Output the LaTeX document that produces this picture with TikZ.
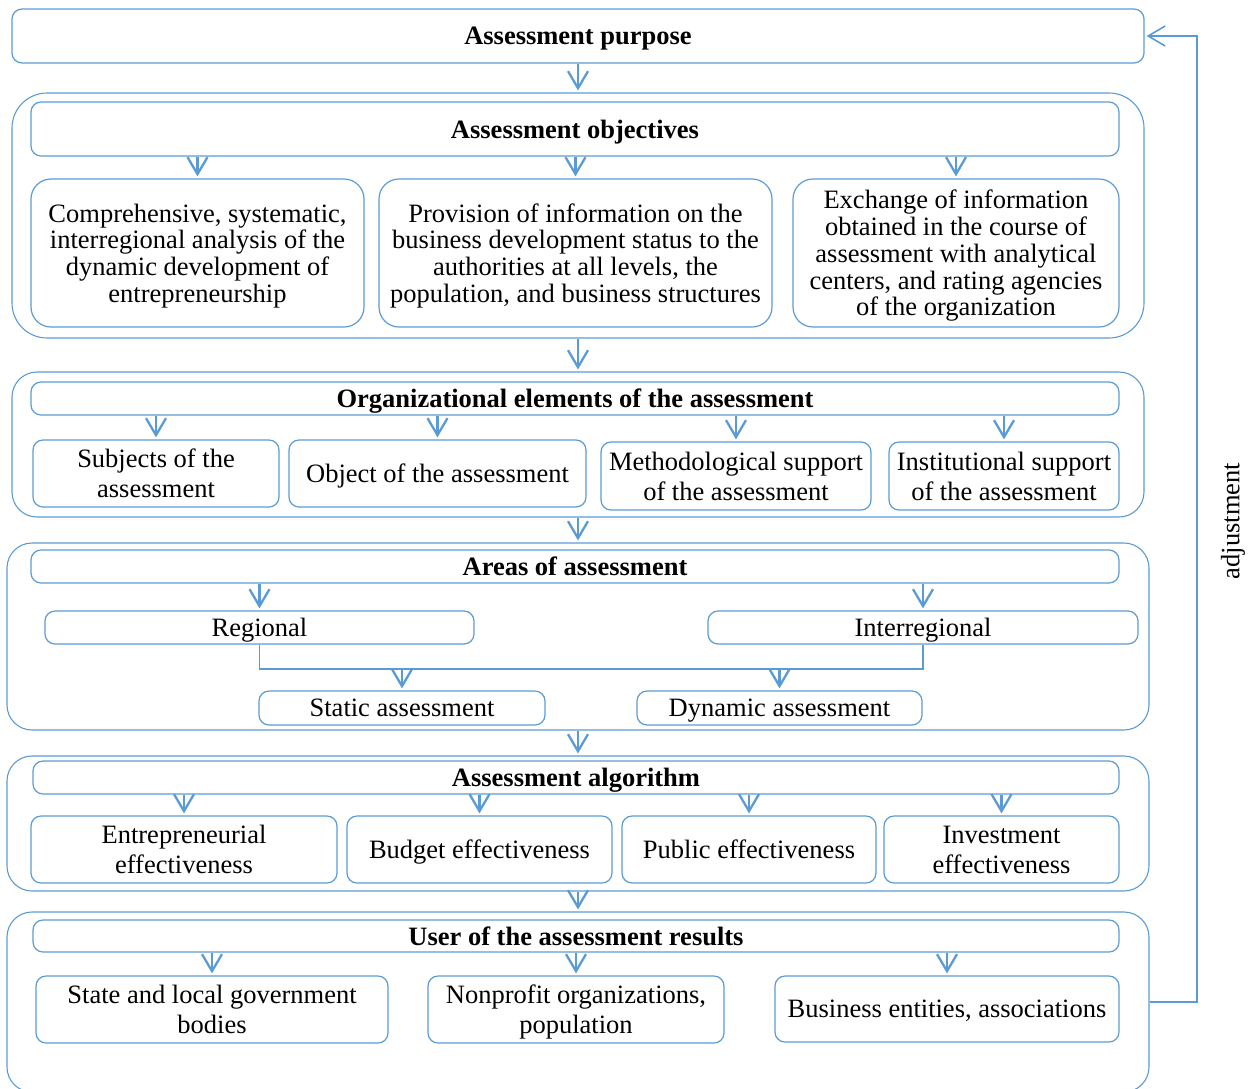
\documentclass[tikz,border=0pt]{standalone}
\usepackage{fontspec}
\setmainfont{Liberation Serif}
\usetikzlibrary{arrows.meta}
\definecolor{lineblue}{RGB}{91,155,213}

\begin{document}
\begin{tikzpicture}[x=1pt, y=-1pt,
    every node/.style={font=\fontsize{26.5}{26.7}\selectfont, inner sep=2pt, align=center, text depth=0pt},
    box/.style={draw=lineblue, line width=1.2pt, rounded corners=10pt, minimum width=#1},
    grp/.style={draw=lineblue, line width=1.1pt, rounded corners=25pt, minimum width=#1},
    hdr/.style={box=1088pt, minimum height=33pt, font=\fontsize{26.5}{26.7}\selectfont\bfseries},
    arr/.style={lineblue, line width=2.3pt, -{Straight Barb[length=17pt,width=20pt]}, shorten >=2pt},
    link/.style={lineblue, line width=1.2pt}]
    \useasboundingbox (0,0) rectangle (1248,1088);

    % purpose
    \node [box=1132pt, minimum height=54pt, font=\fontsize{26.5}{26.7}\selectfont\bfseries] (purpose) at (578,36) {Assessment purpose};

    % objectives
    \node [grp=1132pt, minimum height=245pt, rounded corners=35pt] (grpA) at (578,215.5) {};
    \node [hdr, minimum height=54pt] (hdrA) at (575,129) {Assessment objectives};
    \node [box=333pt, minimum height=148pt, rounded corners=20pt] (objA) at (197.5,253) {Comprehensive, systematic,\\interregional analysis of the\\dynamic development of\\entrepreneurship};
    \node [box=393pt, minimum height=148pt, rounded corners=20pt] (objB) at (575.5,253) {Provision of information on the\\business development status to the\\authorities at all levels, the\\population, and business structures};
    \node [box=326pt, minimum height=148pt, rounded corners=20pt] (objC) at (956,253) {Exchange of information\\obtained in the course of\\assessment with analytical\\centers, and rating agencies\\of the organization};

    % organizational elements
    \node [grp=1132pt, minimum height=145pt] (grpB) at (578,444.5) {};
    \node [hdr] (hdrB) at (575,398.5) {Organizational elements of the assessment};
    \node [box=246pt, minimum height=67pt] (orgA) at (156,473.5) {Subjects of the\\[3.5pt]assessment};
    \node [box=297pt, minimum height=67pt] (orgB) at (437.5,473.5) {Object of the assessment};
    \node [box=270pt, minimum height=68pt] (orgC) at (736,476) {Methodological support\\[3.5pt]of the assessment};
    \node [box=230pt, minimum height=68pt] (orgD) at (1004,476) {Institutional support\\[3.5pt]of the assessment};

    % areas
    \node [grp=1142pt, minimum height=187pt] (grpC) at (578,636.5) {};
    \node [hdr] (hdrC) at (575,566.5) {Areas of assessment};
    \node [box=429pt, minimum height=33pt] (regional) at (259.5,627.5) {Regional};
    \node [box=430pt, minimum height=33pt] (interreg) at (923,627.5) {Interregional};
    \node [box=286pt, minimum height=34pt] (static) at (402,708) {Static assessment};
    \node [box=285pt, minimum height=34pt] (dynamic) at (779.5,708) {Dynamic assessment};
    \coordinate (split) at (0,669);

    % algorithm
    \node [grp=1142pt, minimum height=135pt] (grpD) at (578,823.5) {};
    \node [hdr, minimum width=1086pt] (hdrD) at (576,777.5) {Assessment algorithm};
    \node [box=306pt, minimum height=67pt] (algA) at (184,849.5) {Entrepreneurial\\[3.5pt]effectiveness};
    \node [box=265pt, minimum height=67pt] (algB) at (479.5,849.5) {Budget effectiveness};
    \node [box=254pt, minimum height=67pt] (algC) at (749,849.5) {Public effectiveness};
    \node [box=235pt, minimum height=67pt] (algD) at (1001.5,849.5) {Investment\\[3.5pt]effectiveness};

    % users
    \node [grp=1142pt, minimum height=180pt] (grpE) at (578,1002) {};
    \node [hdr, minimum width=1086pt, minimum height=32pt] (hdrE) at (576,936) {User of the assessment results};
    \node [box=352pt, minimum height=67pt] (usrA) at (212,1009.5) {State and local government\\[3.5pt]bodies};
    \node [box=296pt, minimum height=67pt] (usrB) at (576,1009.5) {Nonprofit organizations,\\[3.5pt]population};
    \node [box=344pt, minimum height=66pt] (usrC) at (947,1009) {Business entities, associations};

    % flow between groups
    \draw[arr] (purpose.south) -- (grpA.north);
    \draw[arr] (grpA.south) -- (grpB.north);
    \draw[arr] (grpB.south) -- (grpC.north);
    \draw[arr] (grpC.south) -- (grpD.north);
    \draw[arr] (grpD.south) -- (grpE.north);

    % inside the groups
    \foreach \b in {objA,objB,objC} \draw[arr] (hdrA.south -| \b) -- (\b.north);
    \foreach \b in {orgA,orgB,orgC,orgD} \draw[arr] (hdrB.south -| \b) -- (\b.north);
    \foreach \b in {regional,interreg} \draw[arr] (hdrC.south -| \b) -- (\b.north);
    \foreach \b in {algA,algB,algC,algD} \draw[arr] (hdrD.south -| \b) -- (\b.north);
    \foreach \b in {usrA,usrB,usrC} \draw[arr] (hdrE.south -| \b) -- (\b.north);
    \draw[link] (regional.south) |- (split -| interreg) -- (interreg.south);
    \foreach \b in {static,dynamic} \draw[arr] (split -| \b) -- (\b.north);

    % feedback
    \coordinate (fbx) at (1197,0);
    \draw[arr, line width=1.6pt, shorten >=0pt] (grpE.east) -| (fbx |- purpose.east) -- ([xshift=2pt]purpose.east);
    \node [rotate=90, text depth=, inner sep=0pt] (adjust) at (1233,521) {adjustment};
\end{tikzpicture}
\end{document}
